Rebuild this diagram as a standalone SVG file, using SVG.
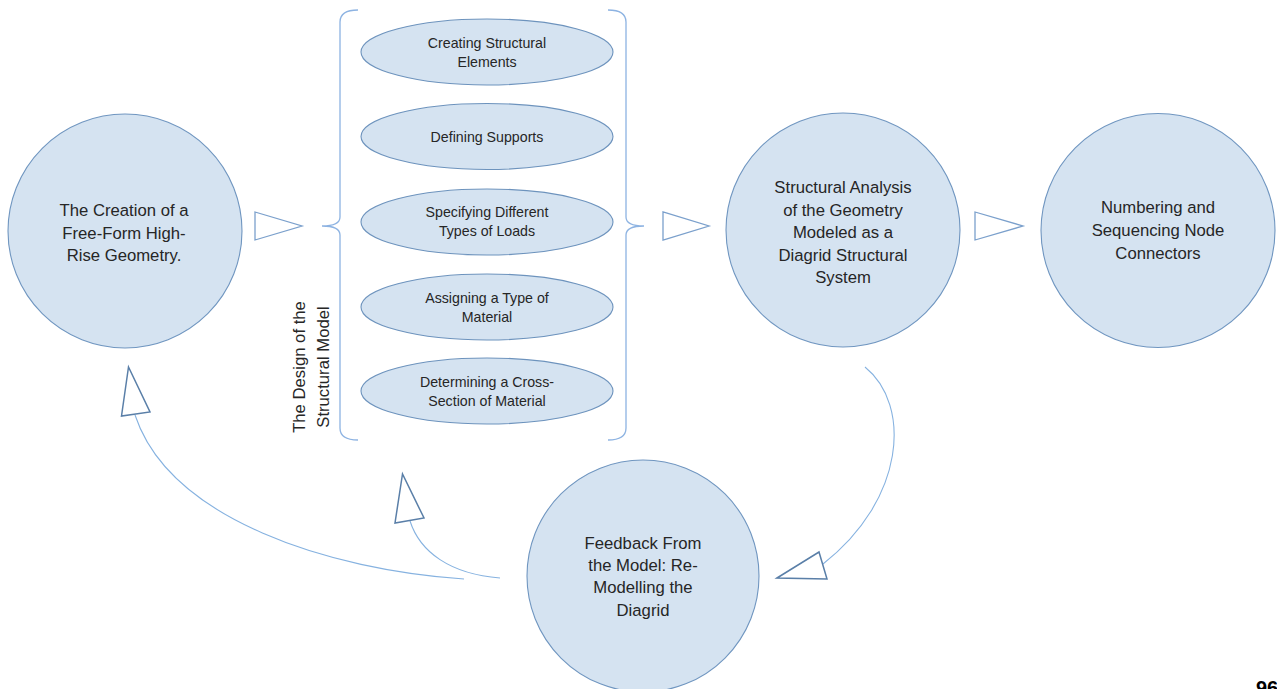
<svg xmlns="http://www.w3.org/2000/svg" width="1277" height="689" viewBox="0 0 1277 689">
<style>
.c{fill:#d5e3f1;stroke:#7096c0;stroke-width:1.1}
.e{fill:#d5e3f1;stroke:#6d93bd;stroke-width:1.1}
.t{font-family:"Liberation Sans",Arial,sans-serif;font-size:16.7px;fill:#262626;text-anchor:middle}
.s{font-family:"Liberation Sans",Arial,sans-serif;font-size:14.2px;fill:#262626;text-anchor:middle}
.br{fill:none;stroke:#8db3e2;stroke-width:1.3}
.ar{fill:#ffffff;stroke:#7ba0cc;stroke-width:1.3}
.ad{fill:#ffffff;stroke:#5a7fa8;stroke-width:1.5}
.ln{fill:none;stroke:#86b2e0;stroke-width:1.1}
</style>
<rect x="0" y="0" width="1277" height="689" fill="#ffffff"/>
<g id="connectors">
<polygon class="ar" points="255,212 255,240 302,226"/>
<polygon class="ar" points="663,212 663,240 709,226"/>
<polygon class="ar" points="975,212 975,240 1023,226"/>
<path class="ln" d="M865,367 C912,405 905,500 823,564"/>
<polygon class="ad" points="777,578 819,552 827,579"/>
<path class="ln" d="M464,579 C330,570 170,520 135,415"/>
<polygon class="ad" points="128.5,367 121.5,416 150,412"/>
<path class="ln" d="M500,578 C450,574 420,552 410,521"/>
<polygon class="ad" points="402.5,474 395,523 424,518"/>
</g>
<g id="brace-left">
<path class="br" d="M358,10 Q340,10 340,22 L340,217 Q340,226 322,226 Q340,226 340,235 L340,428 Q340,440 358,440"/>
</g>
<g id="brace-right">
<path class="br" d="M608,10 Q626,10 626,22 L626,217 Q626,226 644,226 Q626,226 626,235 L626,428 Q626,440 608,440"/>
</g>
<g id="group-label">
<text class="t" transform="translate(305,367) rotate(-90)">The Design of the</text>
<text class="t" transform="translate(329,367) rotate(-90)">Structural Model</text>
</g>
<g id="node-creation">
<circle class="c" cx="125" cy="231" r="117"/>
<text class="t" x="124" y="216">The Creation of a</text>
<text class="t" x="124" y="238.5">Free-Form High-</text>
<text class="t" x="124" y="261">Rise Geometry.</text>
</g>
<g id="step-1">
<ellipse class="e" cx="487" cy="52" rx="126" ry="33"/>
<text class="s" x="487" y="48">Creating Structural</text>
<text class="s" x="487" y="67">Elements</text>
</g>
<g id="step-2">
<ellipse class="e" cx="487" cy="136.5" rx="126" ry="33"/>
<text class="s" x="487" y="142">Defining Supports</text>
</g>
<g id="step-3">
<ellipse class="e" cx="487" cy="222" rx="126" ry="33"/>
<text class="s" x="487" y="217">Specifying Different</text>
<text class="s" x="487" y="236">Types of Loads</text>
</g>
<g id="step-4">
<ellipse class="e" cx="487" cy="307" rx="126" ry="33"/>
<text class="s" x="487" y="303">Assigning a Type of</text>
<text class="s" x="487" y="322">Material</text>
</g>
<g id="step-5">
<ellipse class="e" cx="487" cy="391" rx="126" ry="33"/>
<text class="s" x="487" y="387">Determining a Cross-</text>
<text class="s" x="487" y="406">Section of Material</text>
</g>
<g id="node-analysis">
<circle class="c" cx="843" cy="230" r="117"/>
<text class="t" x="843" y="193">Structural Analysis</text>
<text class="t" x="843" y="215.5">of the Geometry</text>
<text class="t" x="843" y="238">Modeled  as a</text>
<text class="t" x="843" y="260.5">Diagrid Structural</text>
<text class="t" x="843" y="283">System</text>
</g>
<g id="node-numbering">
<circle class="c" cx="1158" cy="230.5" r="117"/>
<text class="t" x="1158" y="213">Numbering and</text>
<text class="t" x="1158" y="236">Sequencing Node</text>
<text class="t" x="1158" y="259">Connectors</text>
</g>
<g id="node-feedback">
<circle class="c" cx="643" cy="576" r="116"/>
<text class="t" x="643" y="548.5">Feedback From</text>
<text class="t" x="643" y="570.5">the Model: Re-</text>
<text class="t" x="643" y="593">Modelling the</text>
<text class="t" x="643" y="615.5">Diagrid</text>
</g>
<text x="1256" y="695" font-family="'Liberation Sans',Arial,sans-serif" font-size="20" font-weight="bold" fill="#000000">96</text>
</svg>
